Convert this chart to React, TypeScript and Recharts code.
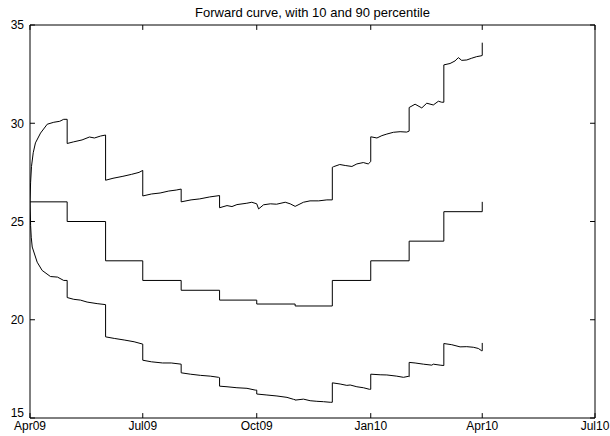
import React from 'react';
import { LineChart, Line, XAxis, YAxis, ReferenceLine } from 'recharts';

// x values are days since 1 Apr 2009
const xTickDays = [0, 91, 183, 275, 365, 456];
const xTickLabels = ['Apr09', 'Jul09', 'Oct09', 'Jan10', 'Apr10', 'Jul10'];
const yTicks = [15, 20, 25, 30, 35];

const fwdDays = [0, 30, 30, 61, 61, 91, 91, 122, 122, 153, 153, 183, 183, 214, 214, 244, 244, 275, 275, 306, 306, 334, 334, 365, 365];
const fwdVals = [26, 26, 25, 25, 23, 23, 22, 22, 21.5, 21.5, 21, 21, 20.8, 20.8, 20.7, 20.7, 22, 22, 23, 23, 24, 24, 25.5, 25.5, 26];

const p90Days = [
  0, 0.5, 1.2, 2.6, 4.4, 8.5, 13.9, 19.2, 24, 27.2, 30,
  30, 35, 42, 48, 52, 57, 61,
  61, 67, 75, 82, 88, 91,
  91, 98, 105, 112, 118, 122,
  122, 130, 137, 145, 153,
  153, 159, 163, 167, 175, 179, 183,
  184.5, 188.5, 194, 199, 206, 210, 214,
  220.7, 226, 233, 239.6, 244,
  244, 245, 250, 254.4, 259.8, 263.8, 269, 273, 275,
  275, 276, 280, 284, 288, 293.3, 298.7, 304, 306,
  306, 310.8, 316.2, 320.2, 325.5, 329.6, 332.3, 334,
  334, 339, 343, 345.7, 348.4, 352.5, 356.5, 360.5, 364, 365, 365,
];
const p90Vals = [
  26, 27.0, 27.8, 28.5, 29.0, 29.5, 29.95, 30.05, 30.1, 30.2, 30.2,
  28.97, 29.05, 29.15, 29.3, 29.25, 29.35, 29.4,
  27.1, 27.2, 27.3, 27.4, 27.5, 27.6,
  26.3, 26.4, 26.45, 26.55, 26.6, 26.65,
  26.0, 26.1, 26.15, 26.25, 26.32,
  25.7, 25.81, 25.76, 25.86, 25.93, 25.98, 25.9,
  25.64, 25.85, 25.9, 25.88, 25.98, 25.9, 25.77,
  25.98, 26.05, 26.05, 26.1, 26.1,
  27.76, 27.79, 27.9, 27.85, 27.8, 27.93, 28.0, 27.93, 28.05,
  29.31, 29.3, 29.25, 29.37, 29.45, 29.54, 29.57, 29.55, 29.6,
  30.8, 30.97, 30.78, 31.02, 30.93, 31.12, 31.07, 31.07,
  32.97, 33.04, 33.17, 33.34, 33.2, 33.22, 33.31, 33.39, 33.43, 33.45, 34.1,
];

const p10Days = [
  0, 0.5, 1, 1.8, 5.8, 9.8, 16.5, 22.2, 27.2, 30,
  30, 35.3, 40.7, 46.1, 54.2, 61,
  61, 68, 76, 84, 91,
  91, 98, 107, 114, 122,
  122, 129.4, 137.5, 145.5, 152.2, 153,
  153, 159, 167, 175.1, 181.8, 183,
  183, 191.2, 199.3, 207.4, 212.7, 214,
  214, 220.7, 226.1, 231.5, 236.9, 242.3, 244,
  244, 250.3, 255.7, 258.4, 263.8, 269.1, 274, 275,
  275, 282.6, 288, 296, 301.4, 305.4, 306,
  306, 310.8, 317.5, 324.3, 325.5, 331, 334,
  334, 340.4, 347.1, 352.5, 357.8, 361.8, 364.6, 365, 365,
];
const p10Vals = [
  26, 24.8, 24.2, 23.7, 22.93, 22.51, 22.2, 22.17, 22.0, 22.0,
  21.13, 21.04, 21.0, 20.9, 20.82, 20.77,
  19.13, 19.05, 18.97, 18.88, 18.76,
  17.94, 17.86, 17.8, 17.8, 17.74,
  17.3, 17.23, 17.17, 17.13, 17.07, 17.05,
  16.62, 16.59, 16.54, 16.51, 16.42, 16.42,
  16.22, 16.17, 16.12, 16.05, 15.95, 15.93,
  15.91, 15.96, 15.88, 15.85, 15.83, 15.8, 15.8,
  16.79, 16.73, 16.66, 16.68, 16.59, 16.54, 16.46, 16.46,
  17.23, 17.2, 17.19, 17.13, 17.07, 17.12, 17.1,
  17.83, 17.8, 17.74, 17.69, 17.74, 17.69, 17.67,
  18.79, 18.73, 18.62, 18.63, 18.6, 18.54, 18.42, 18.42, 18.82,
];

const toRows = (days: number[], vals: number[]) => days.map((d, i) => ({ day: d, v: vals[i] }));
const fwdData = toRows(fwdDays, fwdVals);
const p90Data = toRows(p90Days, p90Vals);
const p10Data = toRows(p10Days, p10Vals);

const FONT = '"Liberation Sans", Arial, Helvetica, sans-serif';
const X_MIN = 0;
const X_MAX = 456;
const Y_MIN = 15;
const Y_MAX = 35;
const TICK_X = 4.0; // days (~5px)
const TICK_Y = 0.25; // units (~5px)

const YTick = (props: any) => {
  const { x, y, payload } = props;
  const shift = payload.value === Y_MIN ? -5 : 0;
  return (
    <text x={x} y={y + shift} dy="0.355em" textAnchor="end" fill="#000" fontSize={12} fontFamily={FONT}>
      {payload.value}
    </text>
  );
};

export default function App() {
  const segs: any[] = [];
  xTickDays.forEach((t) => {
    segs.push([{ x: t, y: Y_MIN }, { x: t, y: Y_MIN + TICK_Y }]);
    segs.push([{ x: t, y: Y_MAX }, { x: t, y: Y_MAX - TICK_Y }]);
  });
  yTicks.forEach((v) => {
    segs.push([{ x: X_MIN, y: v }, { x: X_MIN + TICK_X, y: v }]);
    segs.push([{ x: X_MAX, y: v }, { x: X_MAX - TICK_X, y: v }]);
  });

  return (
    <div style={{ position: 'absolute', left: 0, top: 0, width: 610, height: 436, background: '#fff' }}>
      <svg width={610} height={30} style={{ position: 'absolute', left: 0, top: 0 }}>
        <text x={312.5} y={17} textAnchor="middle" fontSize={13} fontFamily={FONT} fill="#000">
          Forward curve, with 10 and 90 percentile
        </text>
      </svg>
      <div style={{ position: 'absolute', left: 0, top: 0 }}>
        <LineChart width={610} height={436} margin={{ top: 25, right: 15, bottom: 0, left: 0 }}>
          <XAxis
            type="number"
            dataKey="day"
            domain={[X_MIN, X_MAX]}
            ticks={xTickDays}
            interval={0}
            tickFormatter={(v: number) => xTickLabels[xTickDays.indexOf(v)] ?? ''}
            axisLine={false}
            tickLine={false}
            tickSize={3}
            tickMargin={0}
            height={18}
            allowDataOverflow
            tick={{ fill: '#000', fontSize: 12, fontFamily: FONT }}
          />
          <YAxis
            type="number"
            domain={[Y_MIN, Y_MAX]}
            ticks={yTicks}
            interval={0}
            axisLine={false}
            tickLine={false}
            tickSize={6}
            tickMargin={0}
            width={30}
            allowDataOverflow
            tick={<YTick />}
          />
          <ReferenceLine x={X_MIN} stroke="#000" strokeWidth={1} ifOverflow="visible" />
          <ReferenceLine x={X_MAX} stroke="#000" strokeWidth={1} ifOverflow="visible" />
          <ReferenceLine y={Y_MIN} stroke="#000" strokeWidth={1} ifOverflow="visible" />
          <ReferenceLine y={Y_MAX} stroke="#000" strokeWidth={1} ifOverflow="visible" />
          {segs.map((s, i) => (
            <ReferenceLine key={'t' + i} segment={s} stroke="#000" strokeWidth={1} ifOverflow="visible" />
          ))}
          <Line data={p90Data} dataKey="v" type="linear" stroke="#000" strokeWidth={1} dot={false} isAnimationActive={false} />
          <Line data={fwdData} dataKey="v" type="linear" stroke="#000" strokeWidth={1} dot={false} isAnimationActive={false} />
          <Line data={p10Data} dataKey="v" type="linear" stroke="#000" strokeWidth={1} dot={false} isAnimationActive={false} />
        </LineChart>
      </div>
    </div>
  );
}
